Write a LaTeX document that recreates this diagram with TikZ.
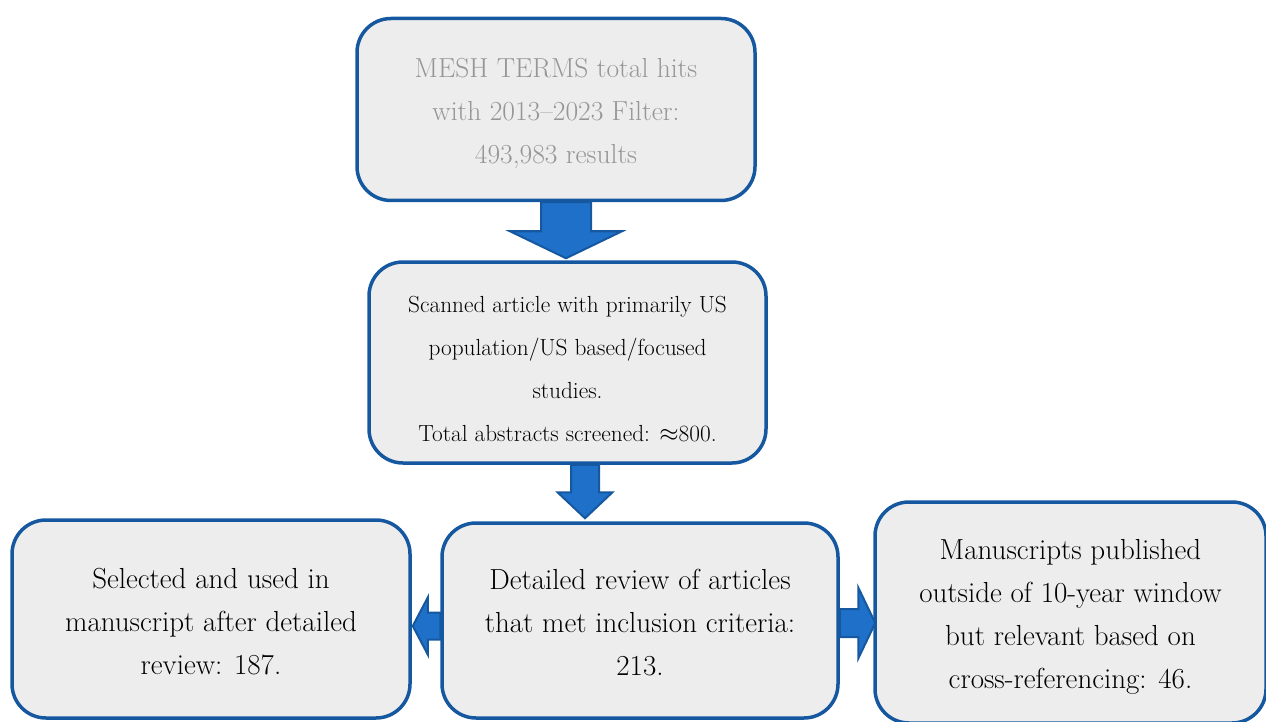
\documentclass[tikz,border=0pt]{standalone}
\usepackage{fontspec}
\usepackage{tikz}
\usetikzlibrary{calc,positioning}
\definecolor{lineblue}{RGB}{22,88,160}
\definecolor{arrowblue}{RGB}{30,112,200}
\definecolor{boxgray}{RGB}{237,237,237}
\definecolor{textgray}{RGB}{150,150,150}

\begin{document}
\begin{tikzpicture}[x=1pt,y=-1pt,
          line join=round,
          stage/.style={rectangle,rounded corners=34pt,draw=lineblue,fill=boxgray,
                        line width=3.5pt,align=center,inner sep=0pt},
          bigtext/.style={font=\fontsize{29}{43}\selectfont},
          blockarrow/.style={fill=arrowblue,draw=lineblue,line width=2pt,line join=miter}]
        \useasboundingbox (0,0) rectangle (1266,722);

        \node[stage,font=\fontsize{27.5}{43}\selectfont,text=textgray,minimum width=398pt,minimum height=182pt]
          (mesh) at (556,109.5) {\rule{0pt}{28pt}MESH TERMS total hits\\with 2013--2023 Filter:\\493,983 results};
        \node[stage,font=\fontsize{23.3}{43}\selectfont,minimum width=397pt,minimum height=201pt]
          (scan) at (567.5,362.5) {\rule{0pt}{30pt}Scanned article with primarily US\\population/US based/focused\\studies.\\Total abstracts screened: $\approx$800.};
        \node[stage,bigtext,minimum width=396pt,minimum height=195pt]
          (review) at (640,620.5) {\rule{0pt}{25pt}Detailed review of articles\\that met inclusion criteria:\\213.};
        \node[stage,bigtext,minimum width=398pt,minimum height=198pt]
          (chosen) at (211,619) {\rule{0pt}{26pt}Selected and used in\\manuscript after detailed\\review: 187.};
        \node[stage,bigtext,minimum width=391pt,minimum height=221pt]
          (older) at (1070.5,612.5) {\rule{0pt}{28pt}Manuscripts published\\outside of 10-year window\\but relevant based on\\cross-referencing: 46.};

        % down arrows
        \coordinate (t1) at ($(scan.north)+(-1.5,-2)$);
        \draw[blockarrow] (t1) -- ++(-56,-27) -- ++(31,0) -- ($(t1 |- mesh.south)+(-25,0)$)
          -- ($(t1 |- mesh.south)+(25,0)$) -- ($(t1)+(25,-27)$) -- ++(31,0) -- cycle;
        \coordinate (t2) at ($(scan.south -| 585,0)$);
        \coordinate (t2) at ($(t2 |- review.north)+(0,-3)$);
        \draw[blockarrow] (t2) -- ++(-27.5,-26) -- ++(13.5,0) -- ($(t2 |- scan.south)+(-14,0)$)
          -- ($(t2 |- scan.south)+(14,0)$) -- ($(t2)+(14,-26)$) -- ++(13.5,0) -- cycle;

        % side arrows
        \coordinate (t3) at ($(chosen.east)+(1,7)$);
        \draw[blockarrow] (t3) -- ++(15,-28.5) -- ++(0,15) -- ($(t3 -| review.west)+(0,-13.5)$)
          -- ($(t3 -| review.west)+(0,13.5)$) -- ($(t3)+(15,13.5)$) -- ++(0,15) -- cycle;
        \coordinate (t4) at ($(older.west |- review.east)+(2,2.5)$);
        \draw[blockarrow] (t4) -- ++(-17,-35.5) -- ++(0,21.5) -- ($(t4 -| review.east)+(0,-14)$)
          -- ($(t4 -| review.east)+(0,14)$) -- ($(t4)+(-17,14)$) -- ++(0,21.5) -- cycle;
      \end{tikzpicture}
\end{document}
